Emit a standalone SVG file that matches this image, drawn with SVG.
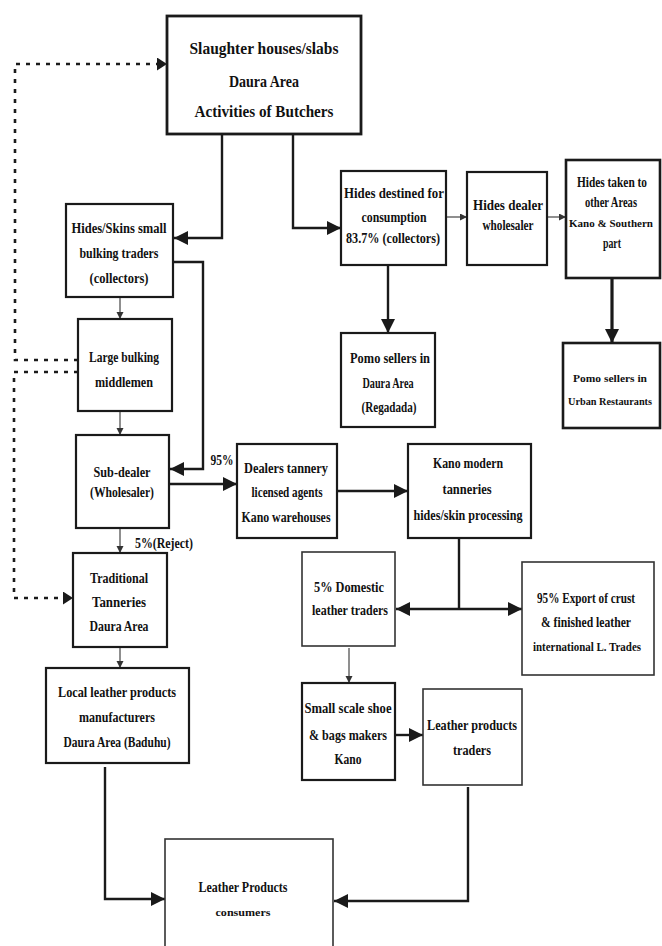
<svg xmlns="http://www.w3.org/2000/svg" width="662" height="946" viewBox="0 0 662 946">
<style>
.box{fill:#fff;stroke:#1a1a1a;stroke-width:2.2}
.thin{fill:#fff;stroke:#333;stroke-width:1.6}
text{font-family:"Liberation Serif",serif;font-weight:bold;font-size:14px;fill:#111;text-anchor:middle}
.big{font-size:17px}
.sm{font-size:10px}
.r{font-size:11px}
.m{font-size:12px}
.c{fill:none;stroke:#1a1a1a;stroke-width:2.4}
.ct{fill:none;stroke:#333;stroke-width:1.1}
.thick{fill:none;stroke:#1a1a1a;stroke-width:3.2}
.dot{fill:none;stroke:#1a1a1a;stroke-width:2.6;stroke-dasharray:4 6}
</style>
<defs>
<marker id="ab" markerUnits="userSpaceOnUse" markerWidth="16" markerHeight="16" refX="14" refY="7" orient="auto"><path d="M0,0 L14,7 L0,14 Z" fill="#1a1a1a"/></marker>
<marker id="as" markerUnits="userSpaceOnUse" markerWidth="8" markerHeight="8" refX="7" refY="3.5" orient="auto"><path d="M0,0 L7,3.5 L0,7 Z" fill="#333"/></marker>
<marker id="ad" markerUnits="userSpaceOnUse" markerWidth="12" markerHeight="14" refX="10" refY="6.5" orient="auto"><path d="M0,0 L10,6.5 L0,13 Z" fill="#1a1a1a"/></marker>
</defs>
<g id="connectors">
<path class="c" d="M222,134 V238 H174" marker-end="url(#ab)"/>
<path class="c" d="M293,134 V228 H341" marker-end="url(#ab)"/>
<path class="ct" d="M446,217 H467" marker-end="url(#as)"/>
<path class="ct" d="M547,217 H566" marker-end="url(#as)"/>
<path class="c" d="M388,265 V333" marker-end="url(#ab)"/>
<path class="thick" d="M612,278 V343" marker-end="url(#ab)"/>
<path class="c" d="M173,262 H203 V469 H170" marker-end="url(#ab)"/>
<path class="ct" d="M120,297 V319" marker-end="url(#as)"/>
<path class="ct" d="M120,411 V435" marker-end="url(#as)"/>
<path class="c" d="M169,484 H237" marker-end="url(#ab)"/>
<path class="ct" d="M120,528 V553" marker-end="url(#as)"/>
<path class="ct" d="M120,647 V668" marker-end="url(#as)"/>
<path class="c" d="M337,491 H408" marker-end="url(#ab)"/>
<path class="c" d="M459,538 V609"/>
<path class="c" d="M459,609 H396" marker-end="url(#ab)"/>
<path class="c" d="M459,609 H522" marker-end="url(#ab)"/>
<path class="ct" d="M349,648 V683" marker-end="url(#as)"/>
<path class="c" d="M395,735 H423" marker-end="url(#ab)"/>
<path class="c" d="M105,767 V899 H165" marker-end="url(#ab)"/>
<path class="c" d="M468,787 V901 H334" marker-end="url(#ab)"/>
<path class="dot" d="M78,360 H15 V64 H167" marker-end="url(#ad)"/>
<path class="dot" d="M78,372 H14 V598 H73" marker-end="url(#ad)"/>
<text x="222" y="465" textLength="23" lengthAdjust="spacingAndGlyphs">95%</text>
<text x="164" y="548" textLength="58" lengthAdjust="spacingAndGlyphs">5%(Reject)</text>
</g>
<g id="slaughter">
<rect class="box" x="167" y="16" width="194" height="118" style="stroke-width:2.8"/>
<text class="big" x="264" y="54" textLength="149" lengthAdjust="spacingAndGlyphs">Slaughter houses/slabs</text>
<text class="big" x="264" y="87" textLength="70" lengthAdjust="spacingAndGlyphs">Daura Area</text>
<text class="big" x="264" y="117" textLength="139" lengthAdjust="spacingAndGlyphs">Activities of Butchers</text>
</g>
<g id="hides_skins">
<rect class="box" x="66" y="204" width="107" height="93"/>
<text x="119" y="233" textLength="95" lengthAdjust="spacingAndGlyphs">Hides/Skins small</text>
<text x="119" y="258" textLength="79" lengthAdjust="spacingAndGlyphs">bulking traders</text>
<text x="119" y="283" textLength="59" lengthAdjust="spacingAndGlyphs">(collectors)</text>
</g>
<g id="large_bulking">
<rect class="box" x="78" y="319" width="94" height="92"/>
<text x="124" y="362" textLength="70" lengthAdjust="spacingAndGlyphs">Large bulking</text>
<text x="124" y="387" textLength="58" lengthAdjust="spacingAndGlyphs">middlemen</text>
</g>
<g id="sub_dealer">
<rect class="box" x="76" y="435" width="93" height="93"/>
<text x="122" y="477" textLength="57" lengthAdjust="spacingAndGlyphs">Sub-dealer</text>
<text x="122" y="497" textLength="64" lengthAdjust="spacingAndGlyphs">(Wholesaler)</text>
</g>
<g id="traditional">
<rect class="box" x="73" y="553" width="94" height="94"/>
<text x="119" y="583" textLength="58" lengthAdjust="spacingAndGlyphs">Traditional</text>
<text x="119" y="607" textLength="54" lengthAdjust="spacingAndGlyphs">Tanneries</text>
<text x="119" y="631" textLength="59" lengthAdjust="spacingAndGlyphs">Daura Area</text>
</g>
<g id="local_leather">
<rect class="box" x="46" y="668" width="143" height="95"/>
<text x="117" y="697" textLength="118" lengthAdjust="spacingAndGlyphs">Local leather products</text>
<text x="117" y="722" textLength="76" lengthAdjust="spacingAndGlyphs">manufacturers</text>
<text x="117" y="747" textLength="107" lengthAdjust="spacingAndGlyphs">Daura Area (Baduhu)</text>
</g>
<g id="consumers">
<rect class="thin" x="165" y="839" width="168" height="120"/>
<text x="243" y="892" textLength="89" lengthAdjust="spacingAndGlyphs">Leather Products</text>
<text class="sm" x="243" y="916" textLength="55" lengthAdjust="spacingAndGlyphs">consumers</text>
</g>
<g id="hides_destined">
<rect class="box" x="341" y="171" width="105" height="94"/>
<text x="394" y="198" textLength="100" lengthAdjust="spacingAndGlyphs">Hides destined for</text>
<text x="394" y="222" textLength="65" lengthAdjust="spacingAndGlyphs">consumption</text>
<text x="393" y="243" textLength="94" lengthAdjust="spacingAndGlyphs">83.7% (collectors)</text>
</g>
<g id="hides_dealer">
<rect class="box" x="467" y="172" width="80" height="93"/>
<text x="508" y="210" textLength="70" lengthAdjust="spacingAndGlyphs">Hides dealer</text>
<text x="508" y="230" textLength="51" lengthAdjust="spacingAndGlyphs">wholesaler</text>
</g>
<g id="hides_taken">
<rect class="box" x="566" y="160" width="94" height="118" style="stroke-width:2.6"/>
<text x="612" y="187" textLength="70" lengthAdjust="spacingAndGlyphs">Hides taken to</text>
<text x="611" y="207" textLength="52" lengthAdjust="spacingAndGlyphs">other Areas</text>
<text class="r" x="611" y="227" textLength="84" lengthAdjust="spacingAndGlyphs">Kano &amp; Southern</text>
<text x="612" y="248" textLength="18" lengthAdjust="spacingAndGlyphs">part</text>
</g>
<g id="pomo_daura">
<rect class="box" x="341" y="333" width="94" height="94"/>
<text x="390" y="363" textLength="80" lengthAdjust="spacingAndGlyphs">Pomo sellers in</text>
<text x="388" y="388" textLength="51" lengthAdjust="spacingAndGlyphs">Daura Area</text>
<text x="389" y="412" textLength="55" lengthAdjust="spacingAndGlyphs">(Regadada)</text>
</g>
<g id="pomo_urban">
<rect class="box" x="563" y="343" width="97" height="85" style="stroke-width:2.6"/>
<text class="r" x="610" y="382" textLength="74" lengthAdjust="spacingAndGlyphs">Pomo sellers in</text>
<text class="r" x="610" y="405" textLength="84" lengthAdjust="spacingAndGlyphs">Urban Restaurants</text>
</g>
<g id="dealers">
<rect class="box" x="237" y="444" width="100" height="94"/>
<text x="286" y="473" textLength="84" lengthAdjust="spacingAndGlyphs">Dealers tannery</text>
<text x="287" y="497" textLength="71" lengthAdjust="spacingAndGlyphs">licensed agents</text>
<text x="286" y="522" textLength="89" lengthAdjust="spacingAndGlyphs">Kano warehouses</text>
</g>
<g id="kano_modern">
<rect class="box" x="408" y="444" width="123" height="94"/>
<text x="468" y="468" textLength="70" lengthAdjust="spacingAndGlyphs">Kano modern</text>
<text x="467" y="494" textLength="49" lengthAdjust="spacingAndGlyphs">tanneries</text>
<text x="468" y="520" textLength="109" lengthAdjust="spacingAndGlyphs">hides/skin processing</text>
</g>
<g id="domestic">
<rect class="thin" x="302" y="552" width="93" height="94"/>
<text x="349" y="592" textLength="70" lengthAdjust="spacingAndGlyphs">5% Domestic</text>
<text x="350" y="615" textLength="76" lengthAdjust="spacingAndGlyphs">leather traders</text>
</g>
<g id="export">
<rect class="thin" x="522" y="562" width="132" height="113"/>
<text x="586" y="603" textLength="98" lengthAdjust="spacingAndGlyphs">95% Export of crust</text>
<text x="586" y="627" textLength="90" lengthAdjust="spacingAndGlyphs">&amp; finished leather</text>
<text class="m" x="587" y="651" textLength="108" lengthAdjust="spacingAndGlyphs">international L. Trades</text>
</g>
<g id="small_scale">
<rect class="box" x="302" y="683" width="93" height="97"/>
<text x="348" y="713" textLength="87" lengthAdjust="spacingAndGlyphs">Small scale shoe</text>
<text x="348" y="740" textLength="78" lengthAdjust="spacingAndGlyphs">&amp; bags makers</text>
<text x="348" y="764" textLength="27" lengthAdjust="spacingAndGlyphs">Kano</text>
</g>
<g id="leather_traders">
<rect class="thin" x="423" y="689" width="99" height="96"/>
<text x="472" y="730" textLength="90" lengthAdjust="spacingAndGlyphs">Leather products</text>
<text x="472" y="755" textLength="38" lengthAdjust="spacingAndGlyphs">traders</text>
</g>
</svg>
